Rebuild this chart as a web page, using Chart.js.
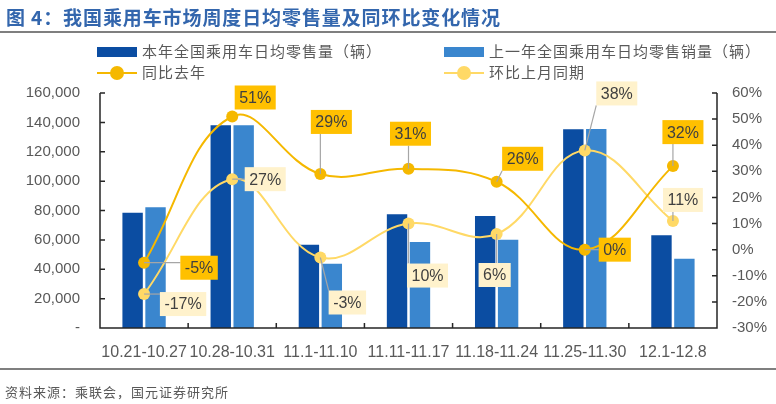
<!DOCTYPE html>
<html>
<head>
<meta charset="utf-8">
<script src="https://cdn.jsdelivr.net/npm/chart.js@4.4.1/dist/chart.umd.min.js"></script>
<style>
  body { margin: 0; background: #fff; }
  #wrap { position: relative; width: 776px; height: 404px; font-family: "Noto Sans CJK SC", sans-serif; }
  #title { position: absolute; left: 6px; top: 3px; font-size: 19px; font-weight: bold; color: #3366AD; letter-spacing: 0.9px; white-space: nowrap; }
  #rule1 { position: absolute; left: 0; top: 31px; width: 776px; height: 2px; background: #7f7f7f; }
  #rule2 { position: absolute; left: 0; top: 368px; width: 776px; height: 2px; background: #7f7f7f; }
  #source { position: absolute; left: 5px; top: 382px; font-size: 13px; color: #595959; letter-spacing: 1px; white-space: nowrap; }
  .lg { position: absolute; font-size: 15px; color: #595959; letter-spacing: 1px; white-space: nowrap; line-height: 20px; }
  .sw { position: absolute; }
  canvas { position: absolute; left: 0; top: 0; }
</style>
</head>
<body>
<div id="wrap">
  <canvas id="c" width="776" height="404"></canvas>
  <div id="title">图 4：我国乘用车市场周度日均零售量及同环比变化情况</div>
  <div id="rule1"></div>
  <div id="legend"></div>
  <div id="rule2"></div>
  <div id="source">资料来源：乘联会，国元证券研究所</div>
</div>
<script>
const categories = ['10.21-10.27', '10.28-10.31', '11.1-11.10', '11.11-11.17', '11.18-11.24', '11.25-11.30', '12.1-12.8'];
const thisYear = [78500, 138000, 56700, 77400, 76300, 135300, 63100];
const lastYear = [82200, 138000, 43800, 58600, 60100, 135500, 47200];
const yoy = [-5, 51, 29, 31, 26, 0, 32];
const mom = [-17, 27, -3, 10, 6, 38, 11];
const leftTicks = [0, 20000, 40000, 60000, 80000, 100000, 120000, 140000, 160000];
const rightTicks = [-30, -20, -10, 0, 10, 20, 30, 40, 50, 60];

// label box offsets from each point (px)
const yoyLabelOff = [[55, 5], [23, -19], [11, -52], [2, -35], [26, -23], [30, 0], [10, -34]];
const momLabelOff = [[39, 10], [33, 0], [27, 45], [19, 52], [-2, 41], [32, -57], [10, -21]];

const C_DARK = '#0B4DA2', C_LIGHT = '#3A86CE', C_GOLD = '#F5B800', C_YEL = '#FFD966';

// legend
const names = ['本年全国乘用车日均零售量（辆）', '上一年全国乘用车日均零售销量（辆）', '同比去年', '环比上月同期'];
const lg = document.getElementById('legend');
[[97, 52, 'bar', C_DARK], [444, 52, 'bar', C_LIGHT], [97, 73, 'line', C_GOLD], [444, 73, 'line', C_YEL]].forEach((d, i) => {
  const [x, y, kind, col] = d;
  if (kind === 'bar') {
    lg.innerHTML += `<div class="sw" style="left:${x}px;top:${y - 5}px;width:40px;height:10px;background:${col}"></div>`;
  } else {
    lg.innerHTML += `<div class="sw" style="left:${x}px;top:${y - 1}px;width:40px;height:2px;background:${col}"></div>` +
      `<div class="sw" style="left:${x + 13}px;top:${y - 7}px;width:14px;height:14px;border-radius:7px;background:${col}"></div>`;
  }
  lg.innerHTML += `<div class="lg" style="left:${x + 45}px;top:${y - 11}px">${names[i]}</div>`;
});

const decor = {
  id: 'decor',
  afterDatasetsDraw(chart) {
    const ctx = chart.ctx, a = chart.chartArea;
    const x = chart.scales.x, yl = chart.scales.y, yr = chart.scales.y1;
    ctx.save();
    ctx.strokeStyle = '#262626';
    ctx.lineWidth = 1.5;
    ctx.beginPath();
    ctx.moveTo(a.left, a.top); ctx.lineTo(a.left, a.bottom); ctx.lineTo(a.right, a.bottom); ctx.lineTo(a.right, a.top);
    leftTicks.forEach(v => { const p = yl.getPixelForValue(v); ctx.moveTo(a.left, p); ctx.lineTo(a.left + 5, p); });
    rightTicks.forEach(v => { const p = yr.getPixelForValue(v); ctx.moveTo(a.right, p); ctx.lineTo(a.right - 5, p); });
    for (let i = 1; i < categories.length; i++) {
      const p = (x.getPixelForValue(i - 1) + x.getPixelForValue(i)) / 2;
      ctx.moveTo(p, a.bottom); ctx.lineTo(p, a.bottom - 5);
    }
    ctx.stroke();

    // data labels with leader lines
    ctx.font = '16px "Liberation Sans", Arial, sans-serif';
    ctx.textAlign = 'center';
    ctx.textBaseline = 'middle';
    const drawSet = (idx, vals, offs, bg) => {
      const meta = chart.getDatasetMeta(idx);
      meta.data.forEach((pt, i) => {
        const txt = vals[i] + '%';
        const cx = pt.x + offs[i][0], cy = pt.y + offs[i][1];
        const w = ctx.measureText(txt).width + 9, h = 24;
        const bx = cx - w / 2, by = cy - h / 2;
        const nx = Math.max(bx, Math.min(pt.x, bx + w)), ny = Math.max(by, Math.min(pt.y, by + h));
        if (Math.hypot(nx - pt.x, ny - pt.y) > 8) {
          ctx.strokeStyle = '#A6A6A6'; ctx.lineWidth = 1.2;
          ctx.beginPath(); ctx.moveTo(pt.x, pt.y); ctx.lineTo(nx, ny); ctx.stroke();
        }
        ctx.fillStyle = bg;
        ctx.fillRect(bx, by, w, h);
        ctx.fillStyle = '#404040';
        ctx.fillText(txt, cx, cy + 1);
      });
    };
    drawSet(3, mom, momLabelOff, '#FFF2CC');
    drawSet(2, yoy, yoyLabelOff, '#FFC000');
    ctx.restore();
  }
};

const tickFont = { family: '"Liberation Sans", Arial, sans-serif', size: 15 };

new Chart(document.getElementById('c'), {
  data: {
    labels: categories,
    datasets: [
      { type: 'bar', data: thisYear, backgroundColor: C_DARK, yAxisID: 'y', categoryPercentage: 0.52, barPercentage: 0.89, order: 3 },
      { type: 'bar', data: lastYear, backgroundColor: C_LIGHT, yAxisID: 'y', categoryPercentage: 0.52, barPercentage: 0.89, order: 3 },
      { type: 'line', data: yoy, borderColor: C_GOLD, backgroundColor: C_GOLD, borderWidth: 2, pointRadius: 6, pointBorderWidth: 0, tension: 0.4, yAxisID: 'y1', order: 1 },
      { type: 'line', data: mom, borderColor: C_YEL, backgroundColor: C_YEL, borderWidth: 2, pointRadius: 6, pointBorderWidth: 0, tension: 0.4, yAxisID: 'y1', order: 2 }
    ]
  },
  options: {
    responsive: false,
    animation: false,
    layout: { padding: { top: 93, left: 0, right: 0, bottom: 0 } },
    plugins: { legend: { display: false }, tooltip: { enabled: false } },
    scales: {
      x: {
        grid: { display: false }, border: { display: false },
        ticks: { color: '#595959', font: { family: tickFont.family, size: 16 }, padding: 7, maxRotation: 0, autoSkip: false },
        afterFit(s) { s.height = 76; }
      },
      y: {
        position: 'left', min: 0, max: 160000,
        grid: { display: false, drawTicks: false }, border: { display: false },
        afterBuildTicks(s) { s.ticks = leftTicks.map(v => ({ value: v })); },
        ticks: { color: '#595959', font: tickFont, padding: 20, callback: v => v === 0 ? '-' : v.toLocaleString('en-US') },
        afterFit(s) { s.width = 100; }
      },
      y1: {
        position: 'right', min: -30, max: 60,
        grid: { display: false, drawTicks: false }, border: { display: false },
        afterBuildTicks(s) { s.ticks = rightTicks.map(v => ({ value: v })); },
        ticks: { color: '#595959', font: tickFont, padding: 15, callback: v => v + '%' },
        afterFit(s) { s.width = 59; }
      }
    }
  },
  plugins: [decor]
});
</script>
</body>
</html>
